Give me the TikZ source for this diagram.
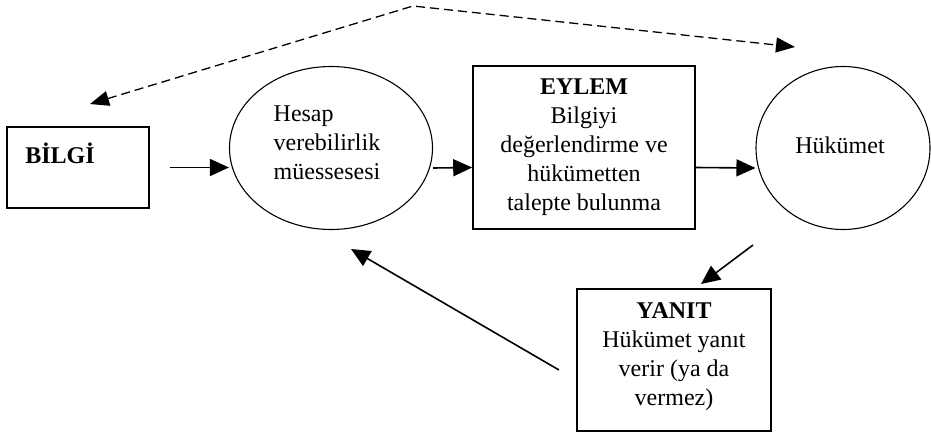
\documentclass[tikz,border=0pt]{standalone}
\usepackage{fontspec}
\setmainfont{Liberation Serif}
\usetikzlibrary{shapes.geometric,arrows.meta}
\tikzset{
  box/.style={draw, line width=1.6pt, rectangle, inner sep=0pt},
  oval/.style={draw, line width=1.1pt, ellipse, inner sep=0pt},
  txt/.style={font=\fontsize{24}{29}\selectfont, align=center, inner sep=0pt},
  arr/.style={line width=1.6pt, -{Triangle[length=19pt,width=17pt]}},
  darr/.style={line width=1.3pt, dash pattern=on 9pt off 5pt, {Triangle[length=19pt,width=15pt]}-{Triangle[length=19pt,width=15pt]}}
}
\begin{document}
\begin{tikzpicture}[x=1pt,y=-1pt]
\useasboundingbox[fill=white] (0,0) rectangle (931,436);
% nodes
\node[box, minimum width=142pt, minimum height=81pt] (bilgi) at (78,167.5) {};
\node[txt, font=\fontsize{24}{29}\selectfont\bfseries] (bilgitxt) at (60,153) {BİLGİ};
\node[oval, minimum width=203pt, minimum height=163pt] (hesap) at (331,148) {};
\node[txt, align=left] (hesaptxt) at (327,143) {Hesap\\verebilirlik\\müessesesi};
\node[box, minimum width=222pt, minimum height=163pt] (eylem) at (584,147.5) {};
\node[txt] (eylemtxt) at (584,147.5) {\textbf{EYLEM}\\Bilgiyi\\değerlendirme ve\\hükümetten\\talepte bulunma};
\node[oval, minimum width=174pt, minimum height=163pt] (huk) at (843,148) {};
\node[txt] (huktxt) at (840,145) {Hükümet};
\node[box, minimum width=194pt, minimum height=142pt] (yanit) at (674,360) {};
\node[txt] (yanittxt) at (674,357) {\textbf{YANIT}\\Hükümet yanıt\\verir (ya da\\vermez)};
% free ends
\coordinate (dl) at (90,104);
\coordinate (dtop) at (413,6);
\coordinate (dr) at (795,47);
\coordinate (h1) at (753,245);
\coordinate (y1) at (701,284);
\coordinate (y2) at (559,370);
\coordinate (hs) at (351,249);
% connectors
\draw[arr, shorten <=20pt] (bilgi.east) -- (bilgi.east -| hesap.west);
\draw[arr] ([yshift=-20pt]hesap.east) -- ([yshift=-20pt]eylem.west);
\draw[arr] ([yshift=-20pt]eylem.east) -- ([yshift=-20pt]huk.west);
\draw[arr] (h1) -- (y1);
\draw[arr] (y2) -- (hs);
\draw[darr] (dl) -- (dtop) -- (dr);
\end{tikzpicture}
\end{document}
